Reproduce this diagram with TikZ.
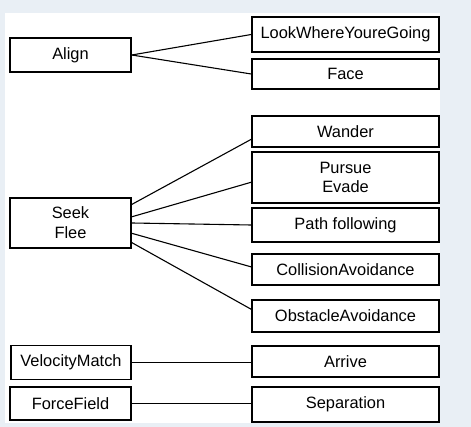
\documentclass[tikz,border=0pt]{standalone}
\usepackage{fontspec}
\setmainfont{Liberation Sans}
\usepackage{tikz}
\usetikzlibrary{calc, positioning}

\definecolor{backblue}{RGB}{233,239,245}

\begin{document}
\begin{tikzpicture}[x=1pt, y=-1pt,
    behaviour/.style={draw, line width=1.5pt, fill=white, inner sep=0pt,
      align=center, font=\fontsize{16.4}{19.8}\selectfont},
    link/.style={line width=1.1pt}]

  \fill[backblue] (0,0) rectangle (471,427);
  \useasboundingbox (0,0) rectangle (471,427);

  \fill[white] (5,13) rectangle (440,423);

  % left column
  \node[behaviour, minimum width=121pt, minimum height=34pt] (align) at (70.5,55) {Align};
  \node[behaviour, minimum width=121pt, minimum height=50pt] (seek) at (70.5,223) {Seek\\Flee};
  \node[behaviour, minimum width=120pt, minimum height=34pt] (velmatch) at (71,362.5) {VelocityMatch};
  \node[behaviour, minimum width=121pt, minimum height=33pt] (forcefield) at (70.5,403.5) {ForceField};

  % right column
  \node[behaviour, minimum width=187pt, minimum height=35pt] (lookwhere) at (345.5,34.5) {LookWhereYoureGoing};
  \node[behaviour, minimum width=187pt, minimum height=30pt] (face) at (345.5,74) {Face};
  \node[behaviour, minimum width=187pt, minimum height=31pt] (wander) at (345.5,131.5) {Wander};
  \node[behaviour, minimum width=187pt, minimum height=51pt] (pursue) at (345.5,177.5) {Pursue\\Evade};
  \node[behaviour, minimum width=187pt, minimum height=34pt] (path) at (345.5,225) {Path following};
  \node[behaviour, minimum width=187pt, minimum height=31pt] (collision) at (345.5,269.5) {CollisionAvoidance};
  \node[behaviour, minimum width=187pt, minimum height=32pt] (obstacle) at (345.5,316) {ObstacleAvoidance};
  \node[behaviour, minimum width=187pt, minimum height=31pt] (arrive) at (345.5,361.5) {Arrive};
  \node[behaviour, minimum width=187pt, minimum height=35pt] (separation) at (345.5,404.5) {Separation};

  \draw[link] (align.east) -- (lookwhere.west);
  \draw[link] (align.east) -- (face.west);

  \draw[link] ($(seek.north east)!0.14!(seek.south east)$) -- ($(wander.north west)!0.74!(wander.south west)$);
  \draw[link] ($(seek.north east)!0.38!(seek.south east)$) -- ($(pursue.north west)!0.59!(pursue.south west)$);
  \draw[link] ($(seek.north east)!0.5!(seek.south east)$) -- (path.west);
  \draw[link] ($(seek.north east)!0.7!(seek.south east)$) -- ($(collision.north west)!0.42!(collision.south west)$);
  \draw[link] ($(seek.north east)!0.88!(seek.south east)$) -- ($(obstacle.north west)!0.3!(obstacle.south west)$);

  \draw[link] (velmatch.east) -- (velmatch.east -| arrive.west);
  \draw[link] (forcefield.east) -- (forcefield.east -| separation.west);

\end{tikzpicture}
\end{document}
